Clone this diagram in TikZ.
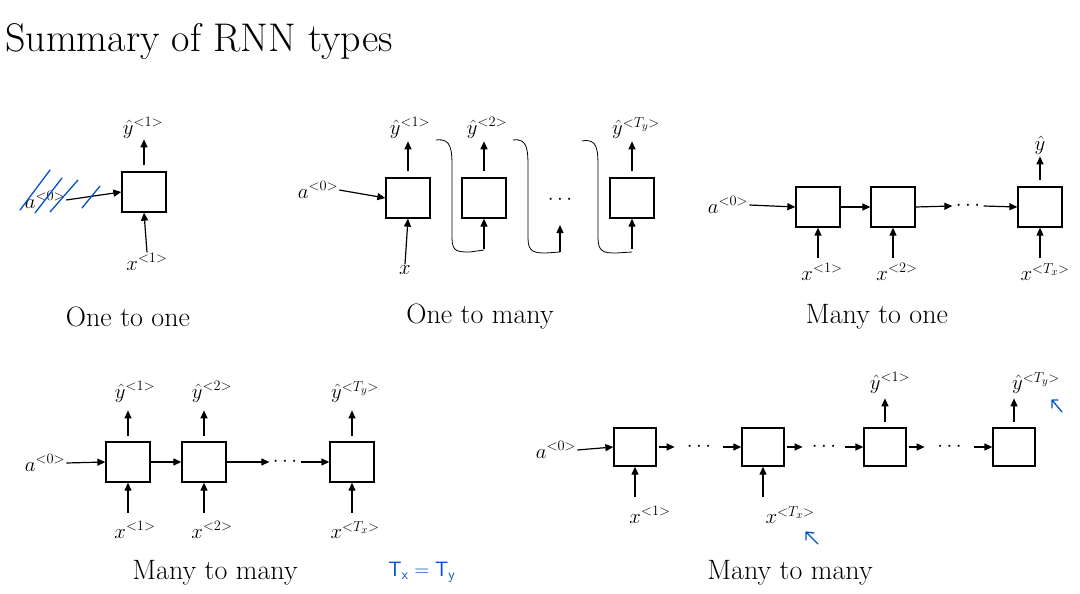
\documentclass[tikz,border=0pt]{standalone}
\usetikzlibrary{arrows.meta}
\begin{document}
\begin{tikzpicture}[x=1pt,y=-1pt,
  cell/.style={draw,line width=1.3pt,minimum width=44pt,minimum height=40pt,inner sep=0},
  lab/.style={font=\fontsize{21}{24}\selectfont,inner sep=1pt},
  capt/.style={font=\fontsize{28}{32}\selectfont},
  ar/.style={-{Triangle[length=8pt,width=7pt]},line width=1.2pt},
  hw/.style={draw=blue!60!cyan!80!black,line width=1.3pt,line cap=round}]
\useasboundingbox (0,0) rectangle (1080,594);
\node[anchor=base west,font=\fontsize{40}{44}\selectfont,inner sep=0] (title) at (5,52) {Summary of RNN types};
% One to one
\node[cell] (o1) at (144,192) {};
\node[lab] (o1y) at (143,128) {$\hat y^{<1>}$};
\node[lab] (o1x) at (147,262) {$x^{<1>}$};
\node[lab] (o1a) at (45,200) {$a^{<0>}$};
\draw[ar] (o1.north) ++(0,-6) -- ++(0,-26);
\draw[ar] (o1x.north) -- (o1.south);
\draw[ar] (o1a.east) -- (o1.west);
\draw[hw] (20,210) -- (50,170); \draw[hw] (35,213) -- (62,178);\draw[hw] (50,212) -- (78,180);\draw[hw] (82,208)--(100,186);
\node[capt] (c1) at (128,317) {One to one};
% One to many
\node[cell] (m1) at (408,198) {};
\node[cell] (m2) at (484,198) {};
\node[font=\fontsize{22}{24}\selectfont] (m3) at (560,200) {$\cdots$};
\node[cell] (m4) at (632,198) {};
\node[lab] (m1y) at (410,128) {$\hat y^{<1>}$};
\node[lab] (m2y) at (487,128) {$\hat y^{<2>}$};
\node[lab] (m4y) at (636,128) {$\hat y^{<T_y>}$};
\node[lab] (m1a) at (318,190) {$a^{<0>}$};
\node[lab] (m1x) at (405,270) {$x$};
\draw[ar] (m1a.east) -- (m1.west);
\draw[ar] (m1x.north) -- (m1.south);
\foreach \b in {m1,m2,m4} \draw[ar] (\b.north) ++(0,-6) -- ++(0,-30);
\draw[ar] (m2.south) ++(0,30) -- (m2.south);
\draw[ar] (560,252) -- (560,225);
\draw[ar] (m4.south) ++(0,30) -- (m4.south);
\draw[line width=0.8pt] (436,140) .. controls (452,138) and (452,150) .. (452,170) -- (452,238) .. controls (452,252) and (458,252) .. (470,252) -- (484,250);
\draw[line width=0.8pt] (513,140) .. controls (528,138) and (528,150) .. (528,170) -- (528,238) .. controls (528,252) and (534,253) .. (546,253) -- (560,252);
\draw[line width=0.8pt] (582,141) .. controls (598,138) and (598,150) .. (598,170) -- (598,238) .. controls (598,252) and (604,253) .. (616,253) -- (632,252);
\node[capt] (c2) at (480,317) {One to many};
% Many to one
\node[cell] (n1) at (818,207) {};
\node[cell] (n2) at (893,207) {};
\node[font=\fontsize{22}{24}\selectfont] (n3) at (968,206) {$\cdots$};
\node[cell] (n4) at (1040,207) {};
\node[lab] (na) at (728,205) {$a^{<0>}$};
\node[lab] (nx1) at (822,272) {$x^{<1>}$};
\node[lab] (nx2) at (897,272) {$x^{<2>}$};
\node[lab] (nx4) at (1045,272) {$x^{<T_x>}$};
\node[lab] (ny) at (1040,145) {$\hat y$};
\draw[ar] (na.east) -- (n1.west);
\draw[ar] (n1.east) -- (n2.west);
\draw[ar] (n2.east) -- (n3.west);
\draw[ar] (n3.east) -- (n4.west);
\foreach \b in {n1,n2,n4} \draw[ar] (\b.south) ++(0,30) -- (\b.south);
\draw[ar] (n4.north) ++(0,-6) -- ++(0,-24);
\node[capt] (c3) at (877,317) {Many to one};
% Many to many 1
\node[cell] (p1) at (128,462) {};
\node[cell] (p2) at (204,462) {};
\node[font=\fontsize{22}{24}\selectfont] (p3) at (285,462) {$\cdots$};
\node[cell] (p4) at (352,462) {};
\node[lab] (pa) at (45,463) {$a^{<0>}$};
\node[lab] (py1) at (135,392) {$\hat y^{<1>}$};
\node[lab] (py2) at (212,392) {$\hat y^{<2>}$};
\node[lab] (py4) at (355,392) {$\hat y^{<T_y>}$};
\node[lab] (px1) at (135,530) {$x^{<1>}$};
\node[lab] (px2) at (212,530) {$x^{<2>}$};
\node[lab] (px4) at (355,530) {$x^{<T_x>}$};
\draw[ar] (pa.east) -- (p1.west);
\draw[ar] (p1.east) -- (p2.west);
\draw[ar] (p2.east) -- (p3.west);
\draw[ar] (p3.east) -- (p4.west);
\foreach \b in {p1,p2,p4} {\draw[ar] (\b.north) ++(0,-5) -- ++(0,-26); \draw[ar] (\b.south) ++(0,30) -- (\b.south);}
\node[capt] (c4) at (215,573) {Many to many};
\node[font=\fontsize{20}{22}\selectfont,text=blue!60!cyan!80!black] (tt) at (422,572) {$\mathsf{T_x = T_y}$};
% Many to many 2
\node[cell,minimum width=42pt,minimum height=38pt] (q1) at (635,447) {};
\node[cell,minimum width=42pt,minimum height=38pt] (q2) at (763,447) {};
\node[cell,minimum width=42pt,minimum height=38pt] (q3) at (885,447) {};
\node[cell,minimum width=42pt,minimum height=38pt] (q4) at (1014,447) {};
\node[lab] (qa) at (556,450) {$a^{<0>}$};
\node[lab] (qx1) at (650,515) {$x^{<1>}$};
\node[lab] (qx2) at (790,515) {$x^{<T_x>}$};
\node[lab] (qy3) at (890,383) {$\hat y^{<1>}$};
\node[lab] (qy4) at (1036,383) {$\hat y^{<T_y>}$};
\draw[ar] (qa.east) -- (q1.west);
\foreach \a/\b in {q1/q2,q2/q3,q3/q4} {
  \draw[ar] (\a.east) ++(2,0) -- ++(16,0);
  \path (\a.east) -- node[pos=0.5,font=\fontsize{20}{22}\selectfont]{$\cdots$} (\b.west);
  \draw[ar] (\b.west) ++(-18,0) -- (\b.west);}
\draw[ar] (q1.south) ++(0,30) -- (q1.south);
\draw[ar] (q2.south) ++(0,30) -- (q2.south);
\draw[ar] (q3.north) ++(0,-5) -- ++(0,-24);
\draw[ar] (q4.north) ++(0,-5) -- ++(0,-24);
\draw[hw] (1062,412) -- (1052,400) (1052,400) -- (1052,408) (1052,400) -- (1058,400);
\draw[hw] (818,544) -- (806,532) (806,532) -- (806,540) (806,532) -- (814,533);
\node[capt] (c5) at (790,573) {Many to many};
\end{tikzpicture}
\end{document}
